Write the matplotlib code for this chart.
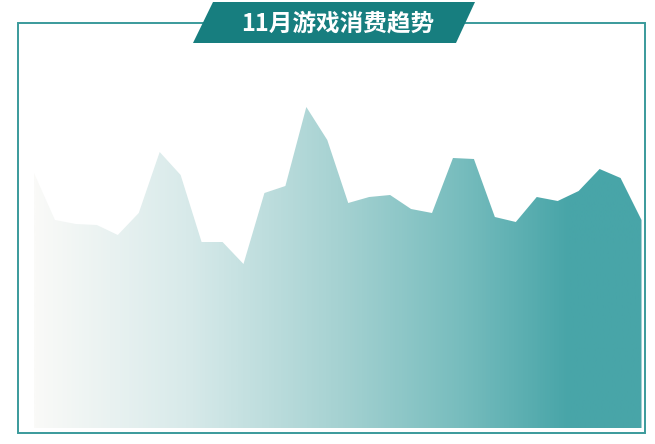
import numpy as np
import matplotlib
matplotlib.use('Agg')
import matplotlib.pyplot as plt
from matplotlib.patches import Polygon, Rectangle
from matplotlib.colors import LinearSegmentedColormap

plt.rcParams['font.family'] = ['Noto Sans CJK SC', 'DejaVu Sans']

# daily game spending in November (arbitrary units)
days = list(range(1, 31))
spending = [255, 208, 204, 203, 193, 215, 276, 253, 186, 186,
            164, 235, 242, 321, 288, 225, 231, 233, 219, 215,
            270, 269, 211, 206, 231, 227, 237, 259, 250, 208]
title = '11月游戏消费趋势'

W, H = 655, 444
fig = plt.figure(figsize=(W / 100, H / 100), dpi=100)


def fx(px):
    return px / W


def fy(py):
    return 1 - py / H


# outer frame
frame = Rectangle((fx(18), fy(433)), fx(645) - fx(18), fy(23) - fy(433),
                  transform=fig.transFigure, fill=False,
                  edgecolor='#3a9a9b', lw=1.4, zorder=1)
fig.patches.append(frame)

# area chart
ax = fig.add_axes([fx(34), fy(428), fx(641.5) - fx(34), fy(60) - fy(428)])
ax.set_xlim(days[0], days[-1])
ax.set_ylim(0, 368)
ax.axis('off')

poly = ax.fill_between(days, spending, 0, color='none', lw=0)
path = poly.get_paths()[0]

cmap = LinearSegmentedColormap.from_list(
    'teal', [(0, '#fafaf8'), (0.25, '#d8eaea'), (0.5, '#a6d2d2'),
             (0.7, '#78bdbe'), (0.88, '#48a5a8'), (1, '#48a5a8')])
grad = np.linspace(0, 1, 512).reshape(1, -1)
img = ax.imshow(grad, cmap=cmap, aspect='auto',
                extent=[days[0], days[-1], 0, 368], origin='lower')
img.set_clip_path(path, transform=ax.transData)

# title banner
banner = Polygon([(fx(193), fy(43)), (fx(213), fy(2)), (fx(475), fy(2)), (fx(456), fy(43))],
                 closed=True, transform=fig.transFigure,
                 facecolor='#177e7f', edgecolor='none', zorder=3)
fig.patches.append(banner)
fig.text(fx(338), fy(23), title, color='white', fontsize=17, fontweight='heavy',
         ha='center', va='center', zorder=4)

fig.savefig('out.png', dpi=100)
